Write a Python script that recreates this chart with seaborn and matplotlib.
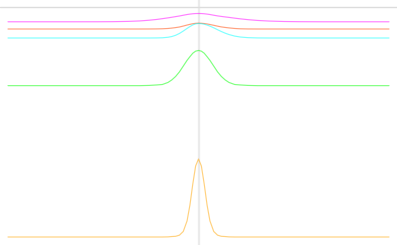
import matplotlib
matplotlib.use("Agg")
import matplotlib.pyplot as plt
import pandas as pd
import seaborn as sns

# shared sample positions (peak at 0)
x_vals = [-1.0, -0.65, -0.53, -0.45, -0.37, -0.31, -0.26, -0.22, -0.19, -0.16,
          -0.14, -0.12, -0.10, -0.08, -0.06, -0.045, -0.03, -0.015, 0.0,
          0.015, 0.03, 0.045, 0.06, 0.08, 0.10, 0.12, 0.14, 0.16, 0.19,
          0.22, 0.26, 0.31, 0.37, 0.45, 0.53, 0.65, 1.0]

magenta = [-0.0643, -0.0643, -0.0642, -0.0638, -0.0626, -0.0607, -0.0576, -0.0542,
           -0.0508, -0.0472, -0.0446, -0.0418, -0.0391, -0.0359, -0.0327, -0.0309,
           -0.0294, -0.0285, -0.0283,
           -0.0285, -0.0294, -0.0309, -0.0327, -0.0358, -0.0387, -0.0410, -0.0432,
           -0.0452, -0.0485, -0.0516, -0.0551, -0.0585, -0.0611, -0.0631, -0.0639,
           -0.0643, -0.0643]

salmon = [-0.0957, -0.0957, -0.0957, -0.0957, -0.0957, -0.0957, -0.0956, -0.0953,
          -0.0947, -0.0934, -0.0917, -0.0896, -0.0870, -0.0829, -0.0785, -0.0754,
          -0.0727, -0.0710, -0.0704,
          -0.0708, -0.0719, -0.0738, -0.0761, -0.0796, -0.0833, -0.0866, -0.0889,
          -0.0909, -0.0934, -0.0948, -0.0955, -0.0957, -0.0957, -0.0957, -0.0957,
          -0.0957, -0.0957]

cyan = [-0.1348, -0.1348, -0.1348, -0.1348, -0.1348, -0.1348, -0.1348, -0.1345,
        -0.1339, -0.1316, -0.1284, -0.1230, -0.1150, -0.1046, -0.0932, -0.0850,
        -0.0779, -0.0733, -0.0717,
        -0.0725, -0.0748, -0.0785, -0.0832, -0.0906, -0.0988, -0.1067, -0.1138,
        -0.1198, -0.1265, -0.1306, -0.1333, -0.1345, -0.1348, -0.1348, -0.1348,
        -0.1348, -0.1348]

green = [-0.342, -0.342, -0.342, -0.342, -0.342, -0.342, -0.341, -0.339,
         -0.337, -0.328, -0.317, -0.302, -0.282, -0.257, -0.232, -0.216,
         -0.201, -0.192, -0.189,
         -0.192, -0.201, -0.216, -0.232, -0.257, -0.282, -0.302, -0.317,
         -0.328, -0.337, -0.339, -0.341, -0.342, -0.342, -0.342, -0.342,
         -0.342, -0.342]

orange = [-1.0, -1.0, -1.0, -1.0, -1.0, -1.0, -1.0, -1.0,
          -1.0, -0.9995, -0.998, -0.997, -0.992, -0.976, -0.930, -0.861,
          -0.770, -0.691, -0.661,
          -0.691, -0.770, -0.861, -0.930, -0.976, -0.992, -0.997, -0.998,
          -0.9995, -1.0, -1.0, -1.0, -1.0, -1.0, -1.0, -1.0,
          -1.0, -1.0]

series = {"magenta": magenta, "salmon": salmon, "cyan": cyan,
          "green": green, "orange": orange}
palette = {"magenta": "#ff00ff", "salmon": "#ff4500", "cyan": "#00ffff",
           "green": "#00ff00", "orange": "#ffa500"}

df = pd.concat([pd.DataFrame({"x": x_vals, "y": v, "series": k})
                for k, v in series.items()], ignore_index=True)

sns.set_style("white")
fig = plt.figure(figsize=(3.97, 2.45), dpi=100)
ax = fig.add_axes([0, 0, 1, 1])

ax.axvline(0, color="#ebebeb", lw=1.6, zorder=0)
ax.axhline(0, color="#dcdcdc", lw=1.0, zorder=0)

sns.lineplot(data=df, x="x", y="y", hue="series", palette=palette,
             estimator=None, sort=False, legend=False, lw=0.85, alpha=0.5, ax=ax)

ax.set_xlim(-1.042, 1.042)
ax.set_ylim(-1.0348, 0.0304)
ax.axis("off")

fig.savefig("out.png", dpi=100)
